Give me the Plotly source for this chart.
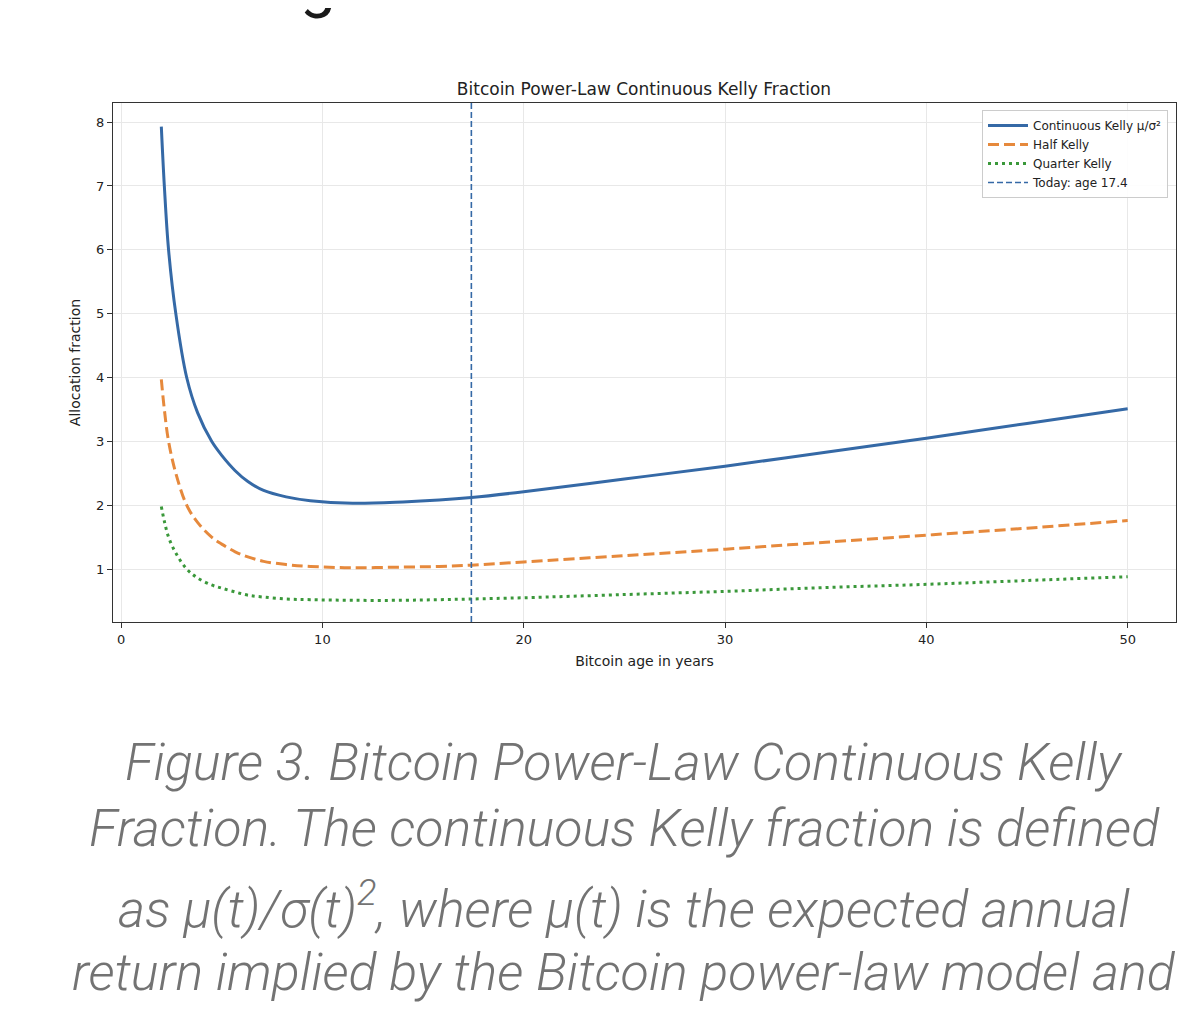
import plotly.graph_objects as go

# values
age_years = [2.0, 2.15, 2.36, 2.72, 3.26, 3.8, 4.5, 5.0, 5.67, 6.3, 7.08, 8.2, 9.4,
             11.5, 14.0, 15.8, 17.4, 20.0, 25.0, 30.0, 35.0, 40.0, 45.0, 50.0]
kelly_full = [7.93, 7.0, 6.0, 5.0, 4.0, 3.45, 3.0, 2.78, 2.54, 2.37, 2.23, 2.13, 2.07,
              2.03, 2.05, 2.08, 2.12, 2.21, 2.41, 2.61, 2.83, 3.05, 3.28, 3.51]
kelly_half = [3.97, 3.5, 3.0, 2.5, 2.0, 1.73, 1.5, 1.39, 1.27, 1.19, 1.12, 1.07, 1.04,
              1.02, 1.03, 1.04, 1.06, 1.11, 1.21, 1.31, 1.42, 1.53, 1.64, 1.76]
kelly_quarter = [1.98, 1.75, 1.5, 1.25, 1.0, 0.86, 0.75, 0.7, 0.64, 0.59, 0.56, 0.53, 0.52,
                 0.51, 0.51, 0.52, 0.53, 0.55, 0.6, 0.65, 0.71, 0.76, 0.82, 0.88]
today_age = 17.4

x_ticks = [0, 10, 20, 30, 40, 50]
y_ticks = [1, 2, 3, 4, 5, 6, 7, 8]

caption_lines = [
    "Figure 3. Bitcoin Power-Law Continuous Kelly",
    "Fraction. The continuous Kelly fraction is defined",
    "as \u03bc(t)/\u03c3(t)<sup>2</sup>, where \u03bc(t) is the expected annual",
    "return implied by the Bitcoin power-law model and",
]

BLUE = "#3569a6"
ORANGE = "#e6893c"
GREEN = "#3a983a"
FONT = "DejaVu Sans"

# page body has an 8px margin, so the figure is sized to fit the window
W, H = 1184, 1009
ML, MR, MT, MB = 105, 16, 95, 395
PLOT_W = W - ML - MR
PLOT_H = H - MT - MB


def px(xs):
    return (xs - 8 - ML) / PLOT_W


def py(ys):
    return 1 - (ys - 8 - MT) / PLOT_H


fig = go.Figure()
fig.add_trace(go.Scatter(
    x=age_years, y=kelly_full, mode="lines", name="Continuous Kelly \u03bc/\u03c3\u00b2",
    line=dict(color=BLUE, width=3, shape="spline", smoothing=1.0),
))
fig.add_trace(go.Scatter(
    x=age_years, y=kelly_half, mode="lines", name="Half Kelly",
    line=dict(color=ORANGE, width=3, dash="11px,5px", shape="spline", smoothing=1.0),
))
fig.add_trace(go.Scatter(
    x=age_years, y=kelly_quarter, mode="lines", name="Quarter Kelly",
    line=dict(color=GREEN, width=3, dash="3px,4px", shape="spline", smoothing=1.0),
))
# legend entry for the vertical marker
fig.add_trace(go.Scatter(
    x=[None], y=[None], mode="lines", name=f"Today: age {today_age}",
    line=dict(color=BLUE, width=1.6, dash="6px,3px"),
))
fig.add_vline(x=today_age, line=dict(color=BLUE, width=1.6, dash="6px,3px"))

axis_common = dict(
    showline=True, mirror=True, linecolor="#333333", linewidth=1.2,
    ticks="outside", ticklen=5, tickcolor="#333333",
    showgrid=True, gridcolor="#e8e8e8", gridwidth=1, zeroline=False,
    tickfont=dict(family=FONT, size=13, color="#222222"),
)

fig.update_layout(
    width=W, height=H,
    paper_bgcolor="white", plot_bgcolor="white",
    margin=dict(l=ML, r=MR, t=MT, b=MB),
    title=dict(text="Bitcoin Power-Law Continuous Kelly Fraction",
               x=(644 - 8) / W, xanchor="center", y=1 - (89 - 8) / H, yanchor="middle",
               font=dict(family=FONT, size=17, color="#222222")),
    xaxis=dict(range=[-0.4, 52.4], tickvals=x_ticks,
               title=dict(text="Bitcoin age in years", standoff=10,
                          font=dict(family=FONT, size=14, color="#222222")),
               **axis_common),
    yaxis=dict(range=[0.17, 8.30], tickvals=y_ticks,
               title=dict(text="Allocation fraction", standoff=12,
                          font=dict(family=FONT, size=14, color="#222222")),
               **axis_common),
    legend=dict(x=px(1168), xanchor="right", y=py(110), yanchor="top",
                bgcolor="rgba(255,255,255,0.9)", bordercolor="#cccccc", borderwidth=1,
                font=dict(family=FONT, size=12, color="#222222"),
                tracegroupgap=0, itemwidth=40),
    showlegend=True,
)

# cut-off heading above the figure (only the descender shows)
fig.add_annotation(
    text="g", xref="paper", yref="paper", x=px(318), y=py(-17),
    xanchor="center", yanchor="middle", showarrow=False,
    font=dict(family="Roboto", size=64, color="#1a1a1a"),
)

# caption under the figure
caption_y = [762, 828, 905, 972]
for text, ypix in zip(caption_lines, caption_y):
    fig.add_annotation(
        text=text, xref="paper", yref="paper",
        x=px(624), y=py(ypix),
        xanchor="center", yanchor="middle", showarrow=False,
        font=dict(family="Roboto", size=52, color="#737373", style="italic", weight=300),
    )

fig.write_html("out.html")
